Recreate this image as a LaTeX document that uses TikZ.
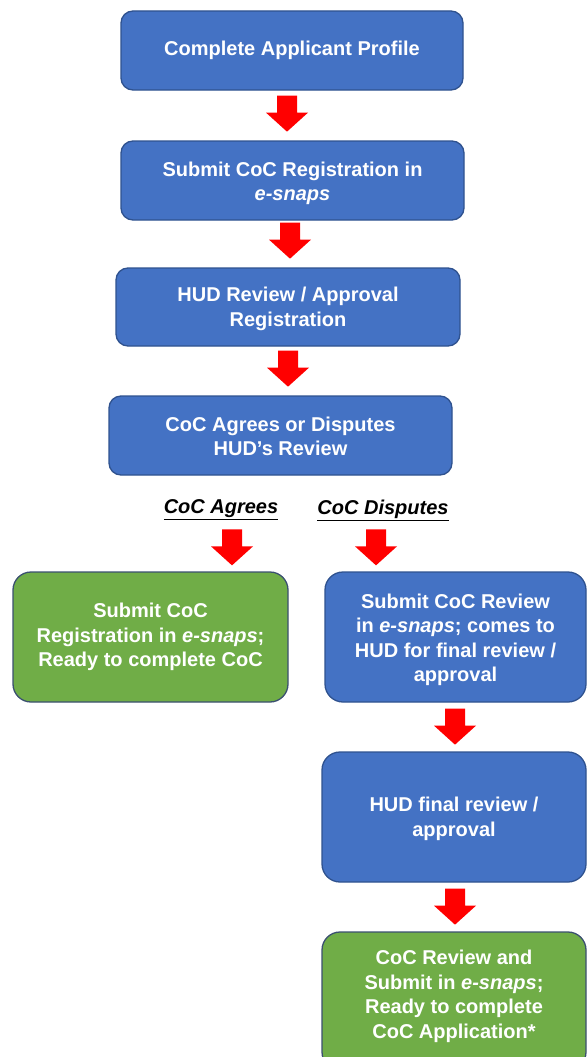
\documentclass[tikz,border=0pt]{standalone}
\usepackage{fontspec}
\setmainfont{Liberation Sans}
\usetikzlibrary{calc}
\definecolor{boxblue}{HTML}{4472C4}
\definecolor{boxblueline}{HTML}{2F528F}
\definecolor{boxgreen}{HTML}{70AD47}
\definecolor{boxgreenline}{HTML}{3B5070}
\definecolor{arrowred}{HTML}{FF0000}
\tikzset{
  x=1pt, y=-1pt,
  basebox/.style={rounded corners=12pt, line width=1.3pt, inner sep=0pt,
    text=white, align=center,
    font=\fontsize{20}{24.5}\selectfont\bfseries},
  bluebox/.style={basebox, fill=boxblue, draw=boxblueline},
  greenbox/.style={basebox, fill=boxgreen, draw=boxgreenline, rounded corners=18pt},
  bigblue/.style={bluebox, rounded corners=18pt},
  boxtext/.style={text=white, align=center, inner sep=0pt,
    font=\fontsize{20}{24.5}\selectfont\bfseries},
  branchlabel/.style={text=black, inner sep=0pt,
    font=\fontsize{20}{24}\selectfont\bfseries\itshape},
  redarrow/.pic={\fill[arrowred] (-10,0) -- (10,0) -- (10,17) -- (21,17) -- (0,36)
     -- (-21,17) -- (-10,17) -- cycle;}
}
\begin{document}
\begin{tikzpicture}
\useasboundingbox (0,0) rectangle (587,1057);
\fill[white] (0,0) rectangle (587,1057);

\node[bluebox, minimum width=342pt, minimum height=79pt] (b1) at (292,50.5)
  {Complete Applicant Profile};
\node[bluebox, minimum width=343pt, minimum height=79pt] (b2) at (292.5,180.5) {};
\node[boxtext] (b2t) at ($(b2.center)+(0,3)$)
  {Submit CoC Registration in\\\textit{e-snaps}};
\node[bluebox, minimum width=344pt, minimum height=78pt] (b3) at (288,307) {};
\node[boxtext] (b3t) at ($(b3.center)+(0,2)$)
  {HUD Review / Approval\\Registration};
\node[bluebox, minimum width=343pt, minimum height=79pt] (b4) at (280.5,435.5) {};
\node[boxtext] (b4t) at ($(b4.center)+(0,1)$)
  {CoC Agrees or Disputes\\HUD’s Review};

\node[branchlabel] (la) at (221,510) {\underline{CoC Agrees}};
\node[branchlabel] (ld) at (383,510) {\underline{CoC Disputes}};

\node[greenbox, minimum width=275pt, minimum height=130pt] (g1) at (150.5,637)
  {Submit CoC\\Registration in \textit{e-snaps};\\Ready to complete CoC};
\node[bigblue, minimum width=261pt, minimum height=130pt] (r1) at (455.5,637) {};
\node[boxtext] (r1t) at ($(r1.center)+(0,3)$)
  {Submit CoC Review\\in \textit{e-snaps}; comes to\\HUD for final review /\\approval};
\node[bigblue, minimum width=264pt, minimum height=130pt] (r2) at (454,817) {};
\node[boxtext] (r2t) at ($(r2.center)+(0,2)$)
  {HUD final review /\\approval};
\node[greenbox, minimum width=264pt, minimum height=138pt] (g2) at (454,1001) {};
\node[boxtext] (g2t) at ($(g2.north)+(0,65)$)
  {CoC Review and\\Submit in \textit{e-snaps};\\Ready to complete\\CoC Application*};

\pic at ($(b1.south)+(-5,5)$) {redarrow};
\pic at ($(b2.south)+(-2.5,2)$) {redarrow};
\pic at ($(b3.south)+(0,4)$) {redarrow};
\pic at ($(g1.north)+(81.5,-42)$) {redarrow};
\pic at ($(r1.north)+(-79.5,-42)$) {redarrow};
\pic at ($(r1.south)+(-0.5,6)$) {redarrow};
\pic at ($(r2.south)+(1,6)$) {redarrow};
\end{tikzpicture}
\end{document}
